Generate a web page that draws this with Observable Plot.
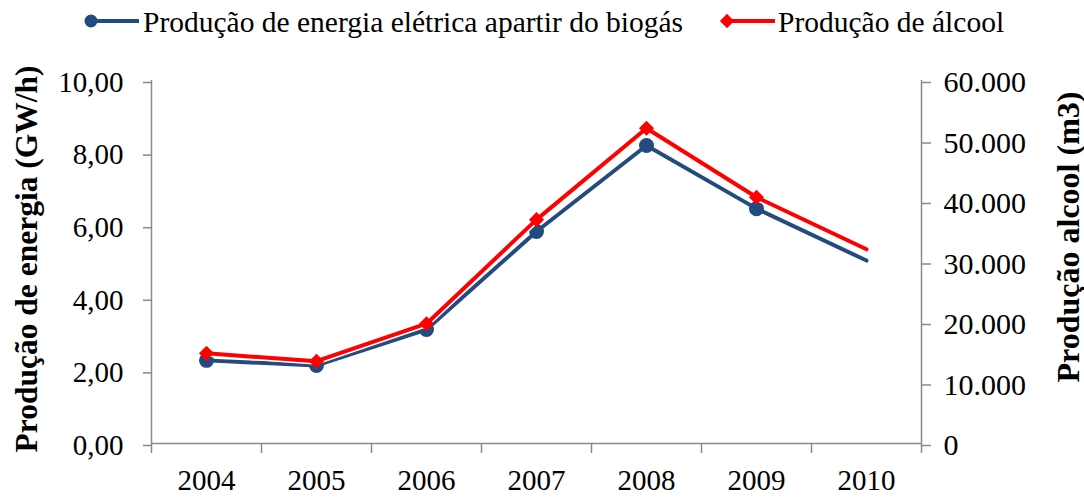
<!DOCTYPE html>
<html>
<head>
<meta charset="utf-8">
<script src="https://cdn.jsdelivr.net/npm/d3@7"></script>
<script src="https://cdn.jsdelivr.net/npm/@observablehq/plot@0.6"></script>
<style>
  html, body { margin: 0; padding: 0; background: #fff; }
  #wrap { width: 1084px; font-family: "Liberation Serif", "Times New Roman", serif; }
  #legend { display: block; }
</style>
</head>
<body>
<div id="wrap"></div>
<script>
// ---- Data ----
const years = [2004, 2005, 2006, 2007, 2008, 2009, 2010];
const energia = [2.29, 2.15, 3.14, 5.84, 8.21, 6.47, 5.04];          // GW/h (left axis)
const alcool = [14900, 13600, 19800, 37000, 52100, 40700, 32100];    // m3 (right axis)
const energiaTicks = [0, 2, 4, 6, 8, 10];
const alcoolTicks = [0, 10000, 20000, 30000, 40000, 50000, 60000];
const seriesNames = ["Produção de energia elétrica apartir do biogás", "Produção de álcool"];
const axisTitles = ["Produção de energia (GW/h)", "Produção alcool (m3)"];

// ---- Styles ----
const blue = "#244b7f";
const red = "#ff0000";
const gray = "#8a8a8a";
const font = "Liberation Serif";

const ratio = energiaTicks[energiaTicks.length - 1] / alcoolTicks[alcoolTicks.length - 1];
const rows = years.map((year, i) => ({year, energia: energia[i], alcool: alcool[i], alcoolY: alcool[i] * ratio}));
const markerRows = rows.slice(0, -1); // reference shows no markers on the last point
const xDomain = [years[0] - 0.5, years[years.length - 1] + 0.5];
const bandEdges = d3.range(xDomain[0], xDomain[1] + 0.01, 1);

const ptBR = d3.formatLocale({decimal: ",", thousands: ".", grouping: [3], currency: ["R$", ""]});
const fmtLeft = ptBR.format(".2f");
const fmtRight = ptBR.format(",d");

// ---- Legend (SVG above the plot) ----
const wrap = document.getElementById("wrap");
const legend = d3.create("svg").attr("id", "legend").attr("width", 1084).attr("height", 45)
  .style("font-family", font);
const lg1 = legend.append("g");
lg1.append("line").attr("x1", 91).attr("x2", 139).attr("y1", 21).attr("y2", 21).attr("stroke", blue).attr("stroke-width", 4);
lg1.append("circle").attr("cx", 91).attr("cy", 21).attr("r", 6.5).attr("fill", blue);
lg1.append("text").attr("x", 143).attr("y", 32).attr("font-size", 29.5).attr("fill", "black").text(seriesNames[0]);
const lg2 = legend.append("g");
lg2.append("line").attr("x1", 727).attr("x2", 775).attr("y1", 21).attr("y2", 21).attr("stroke", red).attr("stroke-width", 4);
lg2.append("path").attr("d", d3.symbol(d3.symbolDiamond2, 130)()).attr("transform", "translate(727,21)").attr("fill", red);
lg2.append("text").attr("x", 778).attr("y", 32).attr("font-size", 29.5).attr("fill", "black").text(seriesNames[1]);
wrap.appendChild(legend.node());

// ---- Plot ----
const chart = Plot.plot({
  width: 1084,
  height: 452,
  marginTop: 35,
  marginBottom: 54,
  marginLeft: 151,
  marginRight: 163,
  style: {fontFamily: font, fontSize: "29px", color: "black", background: "white", overflow: "visible"},
  x: {type: "linear", domain: xDomain},
  y: {domain: [energiaTicks[0], energiaTicks[energiaTicks.length - 1]]},
  marks: [
    Plot.ruleY([energiaTicks[0]], {stroke: gray, strokeWidth: 1.5}),
    Plot.ruleX(xDomain, {stroke: gray, strokeWidth: 1.5}),
    Plot.axisY({anchor: "left", ticks: energiaTicks, tickSize: 8, tickPadding: 20, tickFormat: fmtLeft,
      stroke: gray, strokeWidth: 1.5, fontSize: 29, label: null, dy: 2}),
    Plot.axisY({anchor: "right", ticks: alcoolTicks.map(v => v * ratio), tickSize: 9, tickPadding: 13,
      tickFormat: d => fmtRight(Math.round(d / ratio)), stroke: gray, strokeWidth: 1.5, fontSize: 30, label: null, dy: 2}),
    Plot.axisX({ticks: bandEdges, tickSize: 10, tickFormat: () => "", stroke: gray, strokeWidth: 1.5, label: null}),
    Plot.axisX({ticks: years, tickSize: 0, tickPadding: 26, tickFormat: d => String(d), fontSize: 29, label: null}),
    Plot.line(rows, {x: "year", y: "energia", stroke: blue, strokeWidth: 4}),
    Plot.dot(markerRows, {x: "year", y: "energia", r: 7.5, fill: blue}),
    Plot.line(rows, {x: "year", y: "alcoolY", stroke: "white", strokeWidth: 7}),
    Plot.line(rows, {x: "year", y: "alcoolY", stroke: red, strokeWidth: 4}),
    Plot.dot(markerRows, {x: "year", y: "alcoolY", symbol: "diamond2", r: 6.8, fill: red}),
    Plot.text([axisTitles[0]], {frameAnchor: "left", textAnchor: "middle", dx: -125, dy: -3, rotate: -90, fontSize: 31.5, fontWeight: "bold", fill: "black"}),
    Plot.text([axisTitles[1]], {frameAnchor: "right", textAnchor: "middle", dx: 147, dy: -25, rotate: -90, fontSize: 32, fontWeight: "bold", fill: "black"})
  ]
});
wrap.appendChild(chart);
</script>
</body>
</html>
